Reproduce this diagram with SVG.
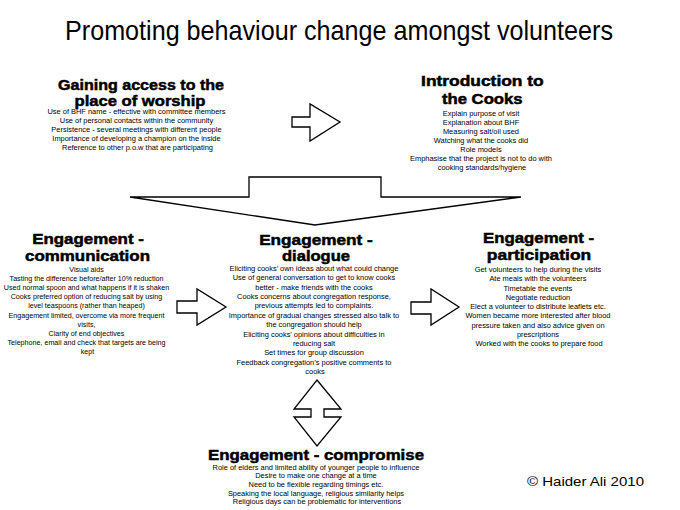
<svg xmlns="http://www.w3.org/2000/svg" width="680" height="510" viewBox="0 0 680 510">
<style>
text{font-family:"Liberation Sans",Arial,sans-serif;fill:#000;text-anchor:middle}
.title{font-size:28px}
.h{font-size:15px;font-weight:bold;stroke:#000;stroke-width:0.5}
.b{font-size:7.45px}
.bs{font-size:7.15px}
.c{font-size:13px}
.arrow{fill:#fff;stroke:#000;stroke-width:1.3;stroke-linejoin:miter}
</style>
<rect width="680" height="510" fill="#fff"/>
<text class="title" x="339" y="39.5" textLength="548" lengthAdjust="spacingAndGlyphs">Promoting behaviour change amongst volunteers</text>

<g id="access">
<text class="h" x="141" y="89.8" textLength="166" lengthAdjust="spacingAndGlyphs">Gaining access to the</text>
<text class="h" x="140" y="105.5" textLength="131" lengthAdjust="spacingAndGlyphs">place of worship</text>
<text class="b">
<tspan x="137.5" y="114.3">Use of BHF name - effective with committee members</tspan>
<tspan x="137.5" y="123.2">Use of personal contacts within the community</tspan>
<tspan x="137.5" y="132.1">Persistence - several meetings with different people</tspan>
<tspan x="137.5" y="141">Importance of developing a champion on the inside</tspan>
<tspan x="137.5" y="150">Reference to other p.o.w that are participating</tspan>
</text>
</g>

<g id="cooks">
<text class="h" x="482.4" y="86" textLength="122.7" lengthAdjust="spacingAndGlyphs">Introduction to</text>
<text class="h" x="482.3" y="104" textLength="80.7" lengthAdjust="spacingAndGlyphs">the Cooks</text>
<text class="b">
<tspan x="482" y="116">Explain purpose of visit</tspan>
<tspan x="482" y="125">Explanation about BHF</tspan>
<tspan x="482" y="134">Measuring salt/oil used</tspan>
<tspan x="482" y="143">Watching what the cooks did</tspan>
<tspan x="482" y="152">Role models</tspan>
<tspan x="482" y="161">Emphasise that the project is not to do with</tspan>
<tspan x="482" y="170">cooking standards/hygiene</tspan>
</text>
</g>

<g id="communication">
<text class="h" x="88" y="243.5" textLength="111.7" lengthAdjust="spacingAndGlyphs">Engagement -</text>
<text class="h" x="87.5" y="261" textLength="125" lengthAdjust="spacingAndGlyphs">communication</text>
<text class="bs">
<tspan x="87.5" y="272">Visual aids</tspan>
<tspan x="87.5" y="281.1">Tasting the difference before/after 10% reduction</tspan>
<tspan x="87.5" y="290.2">Used normal spoon and what happens if it is shaken</tspan>
<tspan x="87.5" y="299.3">Cooks preferred option of reducing salt by using</tspan>
<tspan x="87.5" y="308.4">level teaspoons (rather than heaped)</tspan>
<tspan x="87.5" y="317.5">Engagement limited, overcome via more frequent</tspan>
<tspan x="87.5" y="326.6">visits,</tspan>
<tspan x="87.5" y="335.7">Clarity of end objectives</tspan>
<tspan x="87.5" y="344.8">Telephone, email and check that targets are being</tspan>
<tspan x="87.5" y="354">kept</tspan>
</text>
</g>

<g id="dialogue">
<text class="h" x="316" y="245" textLength="113.7" lengthAdjust="spacingAndGlyphs">Engagement -</text>
<text class="h" x="316" y="261" textLength="68" lengthAdjust="spacingAndGlyphs">dialogue</text>
<text class="b">
<tspan x="315" y="271">Eliciting cooks’ own ideas about what could change</tspan>
<tspan x="315" y="280.4">Use of general conversation to get to know cooks</tspan>
<tspan x="315" y="289.7">better - make friends with the cooks</tspan>
<tspan x="315" y="299.1">Cooks concerns about congregation response,</tspan>
<tspan x="315" y="308.4">previous attempts led to complaints.</tspan>
<tspan x="315" y="317.8">Importance of gradual changes stressed also talk to</tspan>
<tspan x="315" y="327.1">the congregation should help</tspan>
<tspan x="315" y="336.5">Eliciting cooks’ opinions about difficulties in</tspan>
<tspan x="315" y="345.8">reducing salt</tspan>
<tspan x="315" y="355.2">Set times for group discussion</tspan>
<tspan x="315" y="364.5">Feedback congregation’s positive comments to</tspan>
<tspan x="315" y="374">cooks</tspan>
</text>
</g>

<g id="participation">
<text class="h" x="538.5" y="243" textLength="111" lengthAdjust="spacingAndGlyphs">Engagement -</text>
<text class="h" x="539" y="260" textLength="104.3" lengthAdjust="spacingAndGlyphs">participation</text>
<text class="b">
<tspan x="539" y="272">Get volunteers to help during the visits</tspan>
<tspan x="539" y="281.2">Ate meals with the volunteers</tspan>
<tspan x="539" y="290.5">Timetable the events</tspan>
<tspan x="539" y="299.7">Negotiate reduction</tspan>
<tspan x="539" y="309">Elect a volunteer to distribute leaflets etc.</tspan>
<tspan x="539" y="318.2">Women became more interested after blood</tspan>
<tspan x="539" y="327.5">pressure taken and also advice given on</tspan>
<tspan x="539" y="336.7">prescriptions</tspan>
<tspan x="539" y="346">Worked with the cooks to prepare food</tspan>
</text>
</g>

<g id="compromise">
<text class="h" x="316" y="459.5" textLength="216" lengthAdjust="spacingAndGlyphs">Engagement - compromise</text>
<text class="b">
<tspan x="317" y="469.5">Role of elders and limited ability of younger people to influence</tspan>
<tspan x="317" y="478.2">Desire to make one change at a time</tspan>
<tspan x="317" y="487">Need to be flexible regarding timings etc.</tspan>
<tspan x="317" y="495.7">Speaking the local language, religious similarity helps</tspan>
<tspan x="317" y="504.4">Religious days can be problematic for interventions</tspan>
</text>
</g>

<g id="connectors">
<polygon class="arrow" points="292,117 310,117 310,104 340,122 310,141 310,127 292,127"/>
<polygon class="arrow" points="130,197 249,197 249,177 381,177 381,197 521,197 315,225"/>
<polygon class="arrow" points="177,301 197,301 197,289 226,307 197,325 197,313 177,313"/>
<polygon class="arrow" points="411,302 431,302 431,289 459,307 431,325 431,314 411,314"/>
<polygon class="arrow" points="317,380 341,409 324,409 324,417 341,417 317,446 294,417 311,417 311,409 294,409"/>
</g>

<text class="c" x="585.5" y="486" textLength="117" lengthAdjust="spacingAndGlyphs">© Haider Ali 2010</text>
</svg>
